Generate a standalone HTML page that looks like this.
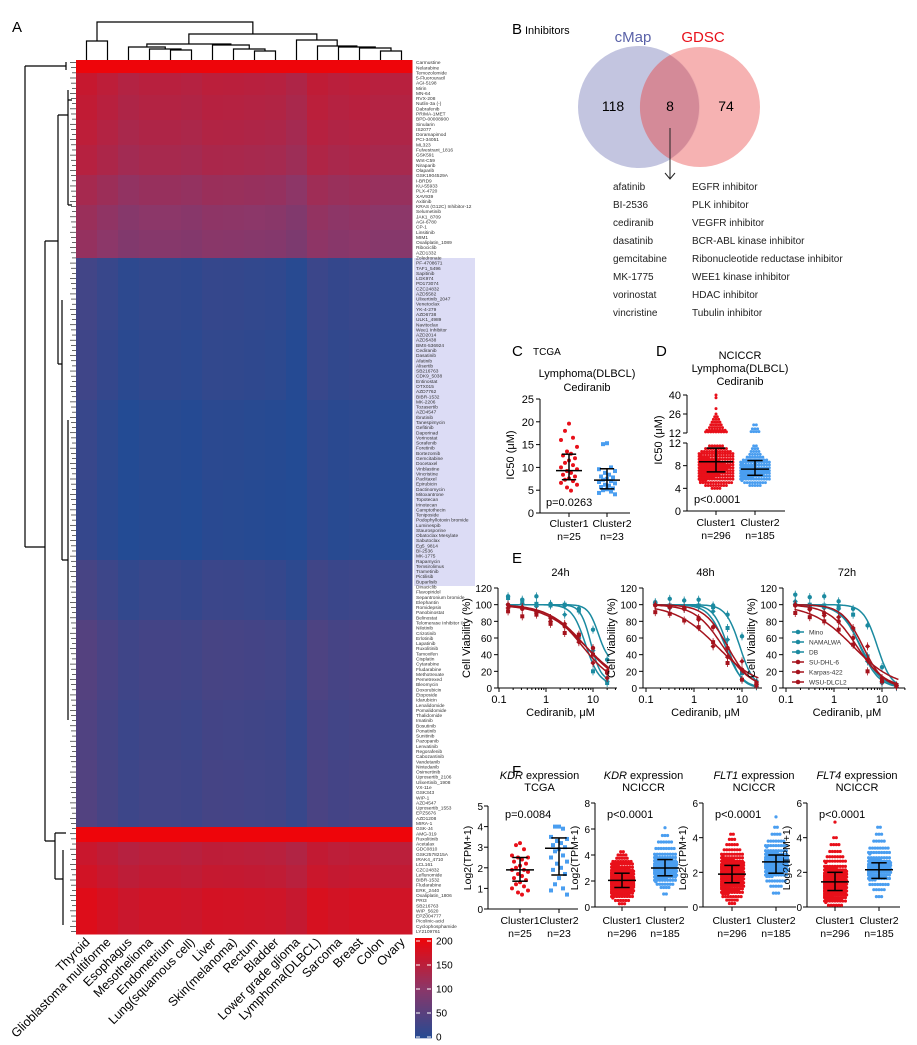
<!DOCTYPE html>
<html><head><meta charset="utf-8"><style>
html,body{margin:0;padding:0;background:#fff}
svg{display:block;font-family:"Liberation Sans",Arial,sans-serif}
</style></head><body>
<svg id="fig" width="917" height="1045" viewBox="0 0 917 1045" xmlns="http://www.w3.org/2000/svg">
<g id="A"></g>
<g id="B">
<text x="512" y="34" font-size="15">B</text>
<text x="525" y="34" font-size="11">Inhibitors</text>
<circle cx="639" cy="107" r="61" fill="#c3c5e0"/>
<circle cx="700" cy="107" r="60" fill="#f4a4a4" fill-opacity="0.85"/>
<path d="M670 55 A61 61 0 0 1 670 159 A60 60 0 0 1 670 55Z" fill="#d48a98"/>
<text x="633" y="42" font-size="15" fill="#5a62a8" text-anchor="middle">cMap</text>
<text x="703" y="42" font-size="15" fill="#e8101a" text-anchor="middle">GDSC</text>
<text x="613" y="111" font-size="14" text-anchor="middle">118</text>
<text x="670" y="111" font-size="14" text-anchor="middle">8</text>
<text x="726" y="111" font-size="14" text-anchor="middle">74</text>
<path d="M670 128V179M665 173L670 179L675 173" stroke="#222" fill="none"/>
<g id="druglist" font-size="10" fill="#222"></g>
</g>
<g id="C"></g>
<g id="D"></g>
<g id="E"></g>
<g id="F"></g>
</svg>
<script>
const NS="http://www.w3.org/2000/svg";
function mk(tag,at,parent,txt){const e=document.createElementNS(NS,tag);for(const k in at)e.setAttribute(k,at[k]);if(txt!==undefined)e.textContent=txt;parent.appendChild(e);return e;}

/* ---------- data: panel B ---------- */
const drugs=["afatinib","BI-2536","cediranib","dasatinib","gemcitabine","MK-1775","vorinostat","vincristine"];
const targets=["EGFR inhibitor","PLK inhibitor","VEGFR inhibitor","BCR-ABL kinase inhibitor","Ribonucleotide reductase inhibitor","WEE1 kinase inhibitor","HDAC inhibitor","Tubulin inhibitor"];

/* ---------- data: heatmap ---------- */
const tissues=["Thyroid","Glioblastoma multiforme","Esophagus","Mesothelioma","Endometrium","Lung(squamous cell)","Liver","Skin(melanoma)","Rectum","Bladder","Lower grade glioma","Lymphoma(DLBCL)","Sarcoma","Breast","Colon","Ovary"];
const bandEnds=[73,95,120,145,175,205,230,258,330,400,480,560,620,700,760,827,842,865,888,910,934];
const bandVals=[200,145,140,135,128,112,100,95,15,12,5,3,20,32,28,30,200,148,156,170,168];
const colOffset=[15,5,-5,0,0,-3,3,2,0,-2,-10,8,2,5,0,0];
const rowNames=["Carmustine","Nelarabine","Temozolomide","5-Fluorouracil","AGI-5198","Mirin","MN-64","RVX-208","Nutlin-3a (-)","Dabrafenib","PRIMA-1MET","BPD-00008900","Sinularin","IS2077","Doramapimod","PCI-34051","ML323","Fulvestrant_1816","GSK591","Wnt-C59","Niraparib","Olaparib","GSK1904529A","I-BRD9","KU-55933","PLX-4720","XAV939","Axitinib","KRAS (G12C) Inhibitor-12","Selumetinib","JAK1_8709","AGI-6780","CP-1","Linsitinib","MIM1","Oxaliplatin_1089","Ribociclib","AZD1332","Zoledronate","PF-4708671","TAF1_5496","Sapitinib","LGK974","PD173074","CZC24832","AZD5582","Ulixertinib_2047","Venetoclax","YK-4-279","AZD6738","ULK1_4989","Navitoclax","Wee1 Inhibitor","AZD2014","AZD5438","BMS-536924","Cediranib","Dasatinib","Afatinib","Alisertib","SB216763","CDK9_5038","Entinostat","OTX015","AZD7762","BIBR-1532","MK-2206","Tozasertib","AZD4547","Ibrutinib","Tanespimycin","Gefitinib","Daporinad","Vorinostat","Sorafenib","Foretinib","Bortezomib","Gemcitabine","Docetaxel","Vinblastine","Vincristine","Paclitaxel","Epirubicin","Dactinomycin","Mitoxantrone","Topotecan","Irinotecan","Camptothecin","Teniposide","Podophyllotoxin bromide","Luminespib","Staurosporine","Obatoclax Mesylate","Sabutoclax","Eg5_9814","BI-2536","MK-1775","Rapamycin","Temsirolimus","Trametinib","Pictilisib","Buparlisib","Dinaciclib","Flavopiridol","Sepantronium bromide","Elephantin","Romidepsin","Panobinostat","Belinostat","Telomerase Inhibitor IX","Nilotinib","Crizotinib","Erlotinib","Lapatinib","Ruxolitinib","Tamoxifen","Cisplatin","Cytarabine","Fludarabine","Methotrexate","Pemetrexed","Bleomycin","Doxorubicin","Etoposide","Idarubicin","Lenalidomide","Pomalidomide","Thalidomide","Imatinib","Bosutinib","Ponatinib","Sunitinib","Pazopanib","Lenvatinib","Regorafenib","Cabozantinib","Vandetanib","Nintedanib","Osimertinib","Uprosertib_2106","Ulixertinib_1908","VX-11e","GSK343","WIP-1","AZD4547","Uprosertib_1553","EPZ5676","AZD1208","MIRA-1","GSK-J4","AMG-319","Ruxolitinib","Acetalax","GDC0810","GSK2578215A","IRAK4_4710","LCL161","CZC24832","Leflunomide","BIBR-1532","Fludarabine","ERK_2440","Oxaliplatin_1806","PRI3","SB216763","WIP_5620","EPZ004777","Picolinic-acid","Cyclophosphamide","LY2109761"];
// column dendrogram: [leftChild, rightChild, mergeHeightY]; leaves are column indices
const colTree=[[0,1,41],[[[2,[3,[4,5,50],49],47],[6,[7,[8,9,51],49],45],44],[10,[11,[12,[13,[14,15,51],48],47],46],40],34],22];

/* ---------- data: panel C ---------- */
const cCats=["Cluster1","Cluster2"];
const cN=["n=25","n=23"];
const cVals1=[19.6,18,16.5,16,14.5,13.5,13,12.6,12,11.5,11,10.5,10,9.6,9.2,8.8,8.4,8,7.6,7.3,7,6.6,6.2,5.6,4.9];
const cVals2=[15.3,15.1,10,9.6,9.2,8.8,8.4,8,7.8,7.5,7.3,7,6.8,6.5,6.2,6,5.7,5.4,5.2,5,4.7,4.4,4.1];
const cStats=[[9.3,7.3,12.9],[7.2,5.3,9.7]];
const cTicks=[0,5,10,15,20,25];

/* ---------- data: panel D (histogram bins: centre value, count) ---------- */
const dBins1=[[4,4],[4.5,9],[5,13],[5.5,17],[6,20],[6.5,22],[7,24],[7.5,25],[8,26],[8.5,24],[9,22],[9.5,18],[10,15],[10.5,12],[11,9],[11.5,6],[12.8,9],[14,8],[16,6],[18,5],[20,4],[22,3],[24,2],[26,1],[30,1],[38,1],[40,1]];
const dBins2=[[4.5,5],[5,9],[5.5,13],[6,17],[6.5,21],[7,23],[7.5,21],[8,17],[8.5,13],[9,10],[9.5,7],[10,5],[10.5,4],[11,3],[11.5,2],[13,4],[15,3],[18,2]];
const dStats=[[8.7,6.9,11.1],[7.4,6.3,8.9]];
const dCats=["Cluster1","Cluster2"];
const dN=["n=296","n=185"];
const dTicksLow=[0,4,8,12];
const dTicksHigh=[12,26,40];

/* ---------- data: panel E ---------- */
const conc=[0.156,0.3125,0.625,1.25,2.5,5,10,20];
const lines=["Mino","NAMALWA","DB","SU-DHL-6","Karpas-422","WSU-DLCL2"];
const times=["24h","48h","72h"];
const ic50=[[13,7,9,6,7,7],[9,5,4.5,4,3,5],[8,3.6,3.5,3,2.5,4]];
const hill=[[4,3,4,1.2,1,1.1],[3,3,2.5,1.5,1,1.8],[3,2,2.2,1.5,1,2]];
const bottom=[[30,4,8,0,0,0],[0,0,0,0,0,0],[0,0,0,0,0,0]];
const via24=[[110,106,110,101,99,95,70,34],[108,104,101,99,100,93,20,6],[100,101,98,100,88,60,45,8],[100,95,90,84,74,63,48,18],[92,86,88,77,66,64,40,20],[96,97,92,80,77,55,30,12]];
const via48=[[103,107,105,106,99,88,62,8],[101,99,98,99,97,72,18,3],[102,96,95,98,92,58,10,2],[99,97,95,84,73,48,22,6],[91,89,81,73,55,30,10,3],[100,97,96,82,50,37,32,4]];
const via72=[[112,109,110,104,95,75,25,3],[100,100,99,98,88,38,8,2],[104,98,96,95,70,32,6,1],[99,95,90,80,60,34,12,3],[90,85,80,70,52,20,8,2],[100,94,87,85,72,50,8,3]];
const eTicksY=[0,20,40,60,80,100,120];
const eTicksX=["0.1","1","10"];

/* ---------- data: panel F ---------- */
const fTitles=[["KDR","expression","TCGA"],["KDR","expression","NCICCR"],["FLT1","expression","NCICCR"],["FLT4","expression","NCICCR"]];
const fMax=[5,8,6,6];
const fTickStep=[1,2,2,2];
const fP=["p=0.0084","p<0.0001","p<0.0001","p<0.0001"];
const fN=[["n=25","n=23"],["n=296","n=185"],["n=296","n=185"],["n=296","n=185"]];
const f1Vals1=[3.2,3.1,2.9,2.6,2.5,2.5,2.4,2.3,2.2,2.1,2,1.9,1.9,1.8,1.7,1.6,1.5,1.4,1.3,1.2,1.1,1,0.9,0.8,0.7];
const f1Vals2=[4,4,3.9,3.5,3.4,3.3,3.2,3.1,3,2.9,2.8,2.6,2.5,2.3,2.2,2,1.9,1.7,1.5,1.2,1,0.9,0.7];
const fBins=[
 null,
 [[[0.25,3],[0.5,6],[0.75,10],[1,16],[1.25,22],[1.5,30],[1.75,36],[2,40],[2.25,36],[2.5,30],[2.75,24],[3,16],[3.25,12],[3.5,8],[3.75,5],[4,4],[4.25,2]],
  [[1,2],[1.5,4],[1.75,7],[2,10],[2.25,14],[2.5,18],[2.75,22],[3,24],[3.25,22],[3.5,18],[3.75,14],[4,10],[4.5,8],[5,6],[5.5,3],[6.1,1]]],
 [[[0.2,3],[0.4,5],[0.6,8],[0.8,12],[1,16],[1.2,22],[1.4,26],[1.6,30],[1.8,32],[2,30],[2.2,28],[2.4,24],[2.6,18],[2.8,14],[3,10],[3.3,7],[3.6,5],[3.9,3],[4.2,2]],
  [[0.8,3],[1.2,5],[1.5,8],[1.8,12],[2,15],[2.2,18],[2.4,22],[2.6,24],[2.8,22],[3,18],[3.2,14],[3.5,10],[3.8,7],[4.2,4],[4.6,2],[5.2,1]]],
 [[[0.1,6],[0.3,10],[0.5,16],[0.7,22],[0.9,28],[1.1,32],[1.3,34],[1.5,32],[1.7,28],[1.9,24],[2.1,18],[2.3,14],[2.6,10],[2.9,7],[3.2,5],[3.6,4],[4,2],[4.9,1]],
  [[0.6,3],[1,5],[1.3,8],[1.6,12],[1.8,16],[2,20],[2.2,24],[2.4,22],[2.6,18],[2.8,14],[3.1,10],[3.4,8],[3.8,5],[4.2,3],[4.6,2]]]
];
const fStats=[[[1.9,1.35,2.5],[2.95,1.65,3.45]],[[2.05,1.5,2.6],[3.0,2.4,3.65]],[[1.9,1.4,2.4],[2.6,1.95,3.0]],[[1.45,0.95,2.0],[2.15,1.65,2.55]]];

/* ================= drawing ================= */
const RED="#e8101a",BLUE="#4a9ef0";
const dl=document.getElementById("druglist");
drugs.forEach((d,i)=>{
 const t=mk("text",{x:613,y:190+i*18},dl,d);
 
 
 const u=mk("text",{x:692,y:190+i*18},dl,targets[i]);
 
 
});

// Panel A
const A=document.getElementById("A");
const lab=mk("text",{x:12,y:32,"font-size":15},A,"A");


const hx0=76,hx1=412,hy0=60,hy1=934,cw=(hx1-hx0)/tissues.length;
function hcol(v){v=Math.max(0,Math.min(200,v))/200;let r,g,b;
 if(v<0.5){const t=v/0.5;r=35+t*(140-35);g=75+t*(55-75);b=148+t*(105-148);}
 else{const t=(v-0.5)/0.5;r=140+t*(238-140);g=55+t*(5-55);b=105+t*(10-105);}
 return `rgb(${r|0},${g|0},${b|0})`;}
const hb=mk("rect",{x:414,y:258,width:61,height:328,fill:"#dcdcf5"},A);


let prev=hy0;
bandEnds.forEach((e,bi)=>{
 tissues.forEach((t,ci)=>{
  const r=mk("rect",{x:hx0+ci*cw,y:prev,width:cw+0.5,height:e-prev+0.5,fill:hcol(bandVals[bi]+(bandVals[bi]>190?0:colOffset[ci]))},A);
  
  
 });
 prev=e;
});
const rl=mk("g",{"font-size":4.8,fill:"#333"},A);


const rh=(hy1-hy0)/rowNames.length;
rowNames.forEach((n,i)=>{
 const t=mk("text",{x:416,y:hy0+rh*(i+0.8)},rl,n);
 
 
 mk("line",{x1:70+(i%3),x2:hx0,y1:hy0+rh*(i+0.5),y2:hy0+rh*(i+0.5),stroke:"#000","stroke-width":0.6},A);
});
tissues.forEach((t,i)=>{
 const cx=hx0+cw*(i+0.5)+4;
 const tx=mk("text",{x:cx,y:943,"font-size":12.5,"text-anchor":"end",transform:`rotate(-45 ${cx} 943)`},A,t);
 
 
});
const den=mk("path",{fill:"none",stroke:"#000","stroke-width":1.2,d:
"M25 66V547M25 66H66M25 547H45M45 241V841M45 241H58M45 841H55M58 115V364M58 115H68M58 364H62M68 90V205M62 300V560M62 560H68M68 420V720M55 833V879M55 833H66M55 879H63M63 850V925M66 62V70M68 100H72M68 205H72"
},A);


let tdPath="";
function drawNode(n){ if(typeof n==="number") return {x:hx0+cw*(n+0.5),y:hy0};
 const a=drawNode(n[0]),b=drawNode(n[1]),h=n[2];
 tdPath+=`M${a.x} ${a.y}V${h}H${b.x}V${b.y}`;return {x:(a.x+b.x)/2,y:h};}
drawNode(colTree);
const td=mk("path",{fill:"none",stroke:"#000","stroke-width":1.2,d:tdPath},A);


const cb=mk("g",{},A);


for(let i=0;i<50;i++){mk("rect",{x:415,y:938+i*2,width:17,height:2.3,fill:hcol(200-i*4)},cb);}
[200,150,100,50,0].forEach((v,i)=>{
 const y=941+(200-v)/200*96;
 mk("line",{x1:416,x2:420,y1:y,y2:y,stroke:"#fff"},cb);mk("line",{x1:427,x2:431,y1:y,y2:y,stroke:"#fff"},cb);
 const t=mk("text",{x:436,y:y+3.5,"font-size":10},cb,String(v));
 
 
});

function yAxis(g,x,y0,y1,ticks,scale,fs,gap){
 mk("line",{x1:x,x2:x,y1:y0,y2:y1,stroke:"#000"},g);
 ticks.forEach(v=>{const y=scale(v);mk("line",{x1:x-4,x2:x,y1:y,y2:y,stroke:"#000"},g);
  const t=mk("text",{x:x-(gap||6),y:y+4,"font-size":fs||11,"text-anchor":"end"},g,String(v));
  
  });
}
function txt(g,x,y,s,fs,anchor,name,extra){const t=mk("text",Object.assign({x:x,y:y,"font-size":fs,"text-anchor":anchor||"middle"},extra||{}),g,s);
 
 return t;}
function errbar(g,x,st,sc,w){
 mk("line",{x1:x-w,x2:x+w,y1:sc(st[0]),y2:sc(st[0]),stroke:"#000","stroke-width":1.5},g);
 mk("line",{x1:x,x2:x,y1:sc(st[1]),y2:sc(st[2]),stroke:"#000","stroke-width":1.5},g);
 mk("line",{x1:x-w*0.55,x2:x+w*0.55,y1:sc(st[1]),y2:sc(st[1]),stroke:"#000","stroke-width":1.5},g);
 mk("line",{x1:x-w*0.55,x2:x+w*0.55,y1:sc(st[2]),y2:sc(st[2]),stroke:"#000","stroke-width":1.5},g);
}
function dots(g,x,vals,sc,color,shape){
 vals.forEach((v,i)=>{const off=[0,-4,4,-8,8,-2,2,-6,6][i%9];let e;
  if(shape==="sq")e=mk("rect",{x:x+off-2,y:sc(v)-2,width:4,height:4,fill:color},g);
  else e=mk("circle",{cx:x+off,cy:sc(v),r:2,fill:color},g);
  
  });
}
function swarm(g,x,bins,sc,color,binH,r,maxCols){
 bins.forEach(([v,n])=>{const cols=Math.min(n,maxCols||14),rows=Math.ceil(n/cols);
  for(let j=0;j<n;j++){const c=j%cols,rw=Math.floor(j/cols);
   const px=x+(c-(cols-1)/2)*2.6+(rw%2)*1.2;const py=sc(v)+(rows>1?(rw-(rows-1)/2)*binH/rows:0);
   const e=mk("circle",{cx:px,cy:py,r:r||1.5,fill:color},g);
   
   }});
}

// Panel C
const C=document.getElementById("C");
txt(C,512,356,"C",15,"start","panel-label-c");
txt(C,533,355,"TCGA",10,"start","dataset-label");
txt(C,587,377,"Lymphoma(DLBCL)",11,"middle","chart-title-c");
txt(C,587,391,"Cediranib",11,"middle","chart-subtitle-c");
const cSc=v=>513-v/25*114;
yAxis(C,540,399,513,cTicks,cSc);
mk("line",{x1:540,x2:630,y1:513,y2:513,stroke:"#000"},C);
[569,607].forEach(x=>mk("line",{x1:x,x2:x,y1:513,y2:517,stroke:"#000"},C));
txt(C,514,455,"IC50 (μM)",11,"middle","y-axis-title-c",{transform:"rotate(-90 514 455)"});
dots(C,569,cVals1,cSc,RED,"c");dots(C,607,cVals2,cSc,BLUE,"sq");
errbar(C,569,cStats[0],cSc,13);errbar(C,607,cStats[1],cSc,13);
txt(C,546,506,"p=0.0263",11,"start","p-value-c");
[569,612].forEach((x,i)=>{txt(C,x,527,cCats[i],10.5,"middle","x-category-label");txt(C,x,540,cN[i],10.5,"middle","x-n-label");});

// Panel D
const D=document.getElementById("D");
txt(D,656,356,"D",15,"start","panel-label-d");
["NCICCR","Lymphoma(DLBCL)","Cediranib"].forEach((s,i)=>txt(D,740,359+i*13,s,11,"middle","chart-title-d"));
const dLo=v=>511-v/12*68,dHi=v=>433-(v-12)/28*38;
const dSc=v=>v<=12?dLo(v):dHi(v);
yAxis(D,687,443,511,dTicksLow,dLo);yAxis(D,687,395,433,dTicksHigh,dHi);
mk("line",{x1:687,x2:785,y1:511,y2:511,stroke:"#000"},D);
[716,755].forEach(x=>mk("line",{x1:x,x2:x,y1:511,y2:515,stroke:"#000"},D));
txt(D,662,440,"IC50 (μM)",11,"middle","y-axis-title-d",{transform:"rotate(-90 662 440)"});
swarm(D,716,dBins1,dSc,RED,3,1.5,14);swarm(D,755,dBins2,dSc,BLUE,3,1.5,12);
errbar(D,716,dStats[0],dSc,17);errbar(D,755,dStats[1],dSc,14);
txt(D,694,503,"p<0.0001",11,"start","p-value-d");
[716,760].forEach((x,i)=>{txt(D,x,526,dCats[i],10.5,"middle","x-category-label");txt(D,x,539,dN[i],10.5,"middle","x-n-label");});

// Panel E
const E=document.getElementById("E");
txt(E,512,563,"E",15,"start","panel-label-e");
const ePlots=[{ax:498,x01:499,dec:47,end:617},{ax:643,x01:646,dec:48,end:762},{ax:783,x01:786,dec:48,end:905}];
const allVia=[via24,via48,via72];
const colors=["#1b8aa0","#1b8aa0","#1b8aa0","#a5131d","#a5131d","#a5131d"];
const marker=["c","sq","d","c","sq","d"];
const eY=v=>688-v/120*100;
ePlots.forEach((p,pi)=>{
 const g=mk("g",{},E);
 
 
 const xs=c=>p.x01+p.dec*(Math.log10(c)+1);
 yAxis(g,p.ax,588,688,eTicksY,eY,10);
 mk("line",{x1:p.ax,x2:p.end,y1:688,y2:688,stroke:"#000"},g);
 eTicksX.forEach(s=>{const x=xs(parseFloat(s));mk("line",{x1:x,x2:x,y1:688,y2:692,stroke:"#000"},g);txt(g,x,703,s,11,"middle","x-tick-label");});
 for(let k=2;k<10;k++)[0.1,1,10].forEach(d=>{const x=xs(k*d);if(x<p.end)mk("line",{x1:x,x2:x,y1:688,y2:690,stroke:"#000"},g);});
 txt(g,(p.ax+p.end)/2+3,576,times[pi],11,"middle","plot-title");
 txt(g,(p.ax+p.end)/2+3,716,"Cediranib, μM",11,"middle","x-axis-title");
 txt(g,p.ax-28,638,"Cell Viability (%)",11,"middle","y-axis-title",{transform:`rotate(-90 ${p.ax-28} 638)`});
 lines.forEach((ln,li)=>{
  let d="";for(let k=0;k<=60;k++){const c=0.15*Math.pow(10,k/60*Math.log10(22/0.15));
   const v=bottom[pi][li]+(100-bottom[pi][li])/(1+Math.pow(c/ic50[pi][li],hill[pi][li]));d+=(k?"L":"M")+xs(c).toFixed(1)+" "+eY(v).toFixed(1);}
  const pth=mk("path",{d:d,fill:"none",stroke:colors[li],"stroke-width":1.5},g);
  
  
  allVia[pi][li].forEach((v,ci)=>{const x=xs(conc[ci]),y=eY(v);let e;
   mk("line",{x1:x,x2:x,y1:y-4,y2:y+4,stroke:colors[li],"stroke-width":0.8},g);
   if(marker[li]==="sq")e=mk("rect",{x:x-2,y:y-2,width:4,height:4,fill:colors[li]},g);
   else if(marker[li]==="d")e=mk("path",{d:`M${x} ${y-2.6}L${x+2.6} ${y}L${x} ${y+2.6}L${x-2.6} ${y}Z`,fill:colors[li]},g);
   else e=mk("circle",{cx:x,cy:y,r:2.2,fill:colors[li]},g);
   
   });
 });
});
const lg=mk("g",{},E);


lines.forEach((ln,i)=>{const y=632+i*10;
 mk("line",{x1:792,x2:804,y1:y,y2:y,stroke:colors[i],"stroke-width":1.5},lg);
 mk("circle",{cx:798,cy:y,r:2.3,fill:colors[i]},lg);
 const t=mk("text",{x:809,y:y+2.5,"font-size":6.5,fill:"#333"},lg,ln);
 
 });

// Panel F
const F=document.getElementById("F");
txt(F,512,776,"F",15,"start","panel-label-f");
const fAx=[488,595,703,807],fY0=[909,907,907,907],fYT=[806,803,803,803];
const fCat=[[520,559],[622,665],[732,776],[835,879]];
fAx.forEach((ax,pi)=>{
 const g=mk("g",{},F);
 
 
 const sc=v=>fY0[pi]-v/fMax[pi]*(fY0[pi]-fYT[pi]);
 const ticks=[];for(let v=0;v<=fMax[pi];v+=fTickStep[pi])ticks.push(v);
 yAxis(g,ax,fYT[pi],fY0[pi],ticks,sc,10,5);
 mk("line",{x1:ax,x2:ax+(pi?93:90),y1:fY0[pi],y2:fY0[pi],stroke:"#000"},g);
 fCat[pi].forEach(x=>mk("line",{x1:x,x2:x,y1:fY0[pi],y2:fY0[pi]+4,stroke:"#000"},g));
 const cx=(fCat[pi][0]+fCat[pi][1])/2;
 const t=mk("text",{x:cx,y:779,"font-size":11,"text-anchor":"middle"},g);
 
 
 mk("tspan",{"font-style":"italic"},t,fTitles[pi][0]);mk("tspan",{},t," "+fTitles[pi][1]);
 txt(g,cx,791,fTitles[pi][2],11,"middle","plot-subtitle");
 txt(g,ax-17,858,"Log2(TPM+1)",10.5,"middle","y-axis-title",{transform:`rotate(-90 ${ax-17} 858)`});
 txt(g,ax+(pi?12:17),818,fP[pi],11,"start","p-value");
 if(pi===0){dots(g,fCat[0][0],f1Vals1,sc,RED,"c");dots(g,fCat[0][1],f1Vals2,sc,BLUE,"sq");}
 else{swarm(g,fCat[pi][0],fBins[pi][0],sc,RED,3,1.6,9);swarm(g,fCat[pi][1],fBins[pi][1],sc,BLUE,3,1.6,9);}
 errbar(g,fCat[pi][0],fStats[pi][0],sc,14);errbar(g,fCat[pi][1],fStats[pi][1],sc,14);
 fCat[pi].forEach((x,i)=>{txt(g,x,924,cCats[i],10.5,"middle","x-category-label");txt(g,x,937,fN[pi][i],10.5,"middle","x-n-label");});
});
</script>
</body></html>
